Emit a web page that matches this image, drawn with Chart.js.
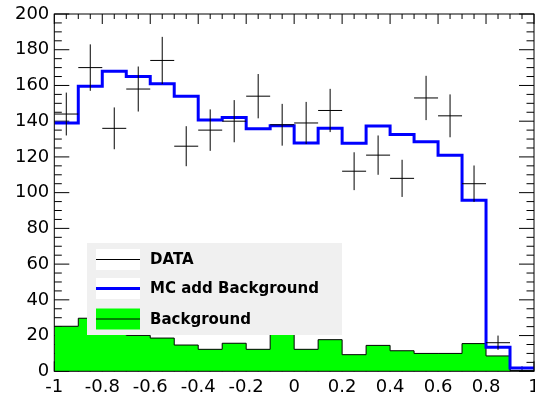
<!DOCTYPE html>
<html>
<head>
<meta charset="utf-8">
<script src="https://cdn.jsdelivr.net/npm/chart.js@4.4.0/dist/chart.umd.min.js"></script>
<style>
  body { margin: 0; background: #fff; }
  canvas { display: block; }
</style>
</head>
<body>
<canvas id="histChart" width="535" height="398"></canvas>
<script>
// bin low edges, all bins are 0.1 wide
const binLow = [-1, -0.9, -0.8, -0.7, -0.6, -0.5, -0.4, -0.3, -0.2, -0.1,
                0, 0.1, 0.2, 0.3, 0.4, 0.5, 0.6, 0.7, 0.8, 0.9];
const binWidth = 0.1;

const dataCounts = [144, 170, 136, 158, 174, 126, 135, 140, 154, 138,
                    139, 146, 112, 121, 108, 153, 143, 105, 16, 0];
const dataErrors = [12, 13, 11.7, 12.6, 13.2, 11.2, 11.6, 11.8, 12.4, 11.7,
                    11.8, 12.1, 10.6, 11, 10.4, 12.4, 12, 10.2, 4, 0];
const mcValues = [139, 159.5, 168, 165, 161, 154, 140.6, 142, 135.8, 137.4,
                  127.8, 136, 127.6, 137.3, 132.6, 128.5, 120.9, 95.7, 13.4, 1.8];
const bkgValues = [25.2, 29.7, 21, 20.1, 18.6, 14.7, 12.3, 15.7, 12.3, 21,
                   12.3, 17.7, 9.3, 14.5, 11.5, 10, 10, 15.5, 8.6, 0.4];

const xTicks = [-1, -0.8, -0.6, -0.4, -0.2, 0, 0.2, 0.4, 0.6, 0.8, 1];
const yTicks = [0, 20, 40, 60, 80, 100, 120, 140, 160, 180, 200];

// step outline: one point per bin low edge + closing point at the last high edge
function stepPoints(vals) {
    const pts = binLow.map((x, i) => ({ x: x, y: vals[i] }));
    pts.push({ x: binLow[binLow.length - 1] + binWidth, y: vals[vals.length - 1] });
    return pts;
}

// crosses: horizontal bar over the bin, vertical error bar, gaps between
function crossPoints() {
    const pts = [];
    binLow.forEach((x, i) => {
        if (dataCounts[i] <= 0) return;
        const c = x + binWidth / 2;
        pts.push({ x: x, y: dataCounts[i] }, { x: x + binWidth, y: dataCounts[i] }, { x: c, y: null });
        pts.push({ x: c, y: dataCounts[i] - dataErrors[i] }, { x: c, y: dataCounts[i] + dataErrors[i] }, { x: c, y: null });
    });
    return pts;
}

const FONT = "'DejaVu Sans', 'Liberation Sans', Arial, sans-serif";

// ROOT style frame with inward ticks
const framePlugin = {
    id: 'frame',
    beforeDatasetsDraw(chart) {
        const { ctx, chartArea: a, scales: { x, y } } = chart;
        ctx.save();
        ctx.strokeStyle = '#000';
        ctx.lineWidth = 1;
        ctx.beginPath();
        for (let v = 0; v <= 200.001; v += 5) {
            const py = y.getPixelForValue(v);
            const len = (Math.round(v) % 20 === 0) ? 15 : 7.5;
            ctx.moveTo(a.left, py); ctx.lineTo(a.left + len, py);
            ctx.moveTo(a.right, py); ctx.lineTo(a.right - len, py);
        }
        for (let k = 0; k <= 40; k++) {
            const v = -1 + k * 0.05;
            const px = x.getPixelForValue(v);
            const len = (k % 4 === 0) ? 10 : 5;
            ctx.moveTo(px, a.top); ctx.lineTo(px, a.top + len);
            ctx.moveTo(px, a.bottom); ctx.lineTo(px, a.bottom - len);
        }
        ctx.stroke();
        ctx.restore();
    },
    afterDatasetsDraw(chart) {
        const { ctx, chartArea: a } = chart;
        ctx.save();
        ctx.strokeStyle = '#000';
        ctx.lineWidth = 1;
        ctx.strokeRect(a.left, a.top, a.right - a.left, a.bottom - a.top);
        ctx.restore();
    }
};

// legend box drawn inside the frame
const legendPlugin = {
    id: 'rootLegend',
    afterDatasetsDraw(chart) {
        const ctx = chart.ctx;
        const ds = chart.data.datasets;
        const box = { x: 87, y: 243, w: 255, h: 92 };
        const rows = [259.5, 288.5, 319];
        ctx.save();
        ctx.fillStyle = '#f0f0f0';
        ctx.fillRect(box.x, box.y, box.w, box.h);
        ctx.font = 'bold 15px ' + FONT;
        ctx.textBaseline = 'middle';
        ctx.textAlign = 'left';
        const entries = [ds[0], ds[1], ds[2]];
        entries.forEach((d, i) => {
            const cy = rows[i];
            const sx = 96, sw = 44, sh = 21;
            ctx.fillStyle = d.fill ? d.backgroundColor : '#fff';
            ctx.fillRect(sx, cy - sh / 2, sw, sh);
            ctx.strokeStyle = d.borderColor;
            ctx.lineWidth = d.borderWidth;
            ctx.beginPath();
            ctx.moveTo(sx, cy); ctx.lineTo(sx + sw, cy);
            ctx.stroke();
            ctx.fillStyle = '#000';
            ctx.fillText(d.label, 150, cy + 1);
        });
        ctx.restore();
    }
};

const ctx = document.getElementById('histChart').getContext('2d');
const histChart = new Chart(ctx, {
    type: 'line',
    data: {
        datasets: [{
            label: 'DATA',
            data: crossPoints(),
            borderColor: '#000',
            borderWidth: 1,
            pointRadius: 0,
            spanGaps: false,
            fill: false
        }, {
            label: 'MC add Background',
            data: stepPoints(mcValues),
            borderColor: '#0000ff',
            borderWidth: 3,
            pointRadius: 0,
            stepped: 'before',
            fill: false
        }, {
            label: 'Background',
            data: stepPoints(bkgValues),
            borderColor: '#000',
            backgroundColor: '#00ff00',
            borderWidth: 1,
            pointRadius: 0,
            stepped: 'before',
            fill: 'origin'
        }]
    },
    options: {
        responsive: false,
        animation: false,
        layout: { padding: { top: 14, right: 1, left: 0, bottom: 0 } },
        plugins: { legend: { display: false }, tooltip: { enabled: false } },
        scales: {
            x: {
                type: 'linear',
                min: -1,
                max: 1,
                grid: { display: false, drawTicks: false },
                border: { display: false },
                afterBuildTicks: (s) => { s.ticks = xTicks.map(v => ({ value: v })); },
                ticks: {
                    autoSkip: false,
                    maxRotation: 0,
                    padding: 5,
                    color: '#000',
                    font: { family: FONT, size: 18 },
                    callback: (v) => String(Number(v.toFixed(1)))
                },
                afterFit: (s) => { s.paddingLeft = 0; s.paddingRight = 0; s.height = 26.7; }
            },
            y: {
                type: 'linear',
                min: 0,
                max: 200,
                grid: { display: false, drawTicks: false },
                border: { display: false },
                afterBuildTicks: (s) => { s.ticks = yTicks.map(v => ({ value: v })); },
                ticks: {
                    padding: 5,
                    color: '#000',
                    font: { family: FONT, size: 18 }
                },
                afterFit: (s) => { s.paddingTop = 0; s.paddingBottom = 0; s.width = 54.3; }
            }
        }
    },
    plugins: [framePlugin, legendPlugin]
});
</script>
</body>
</html>
